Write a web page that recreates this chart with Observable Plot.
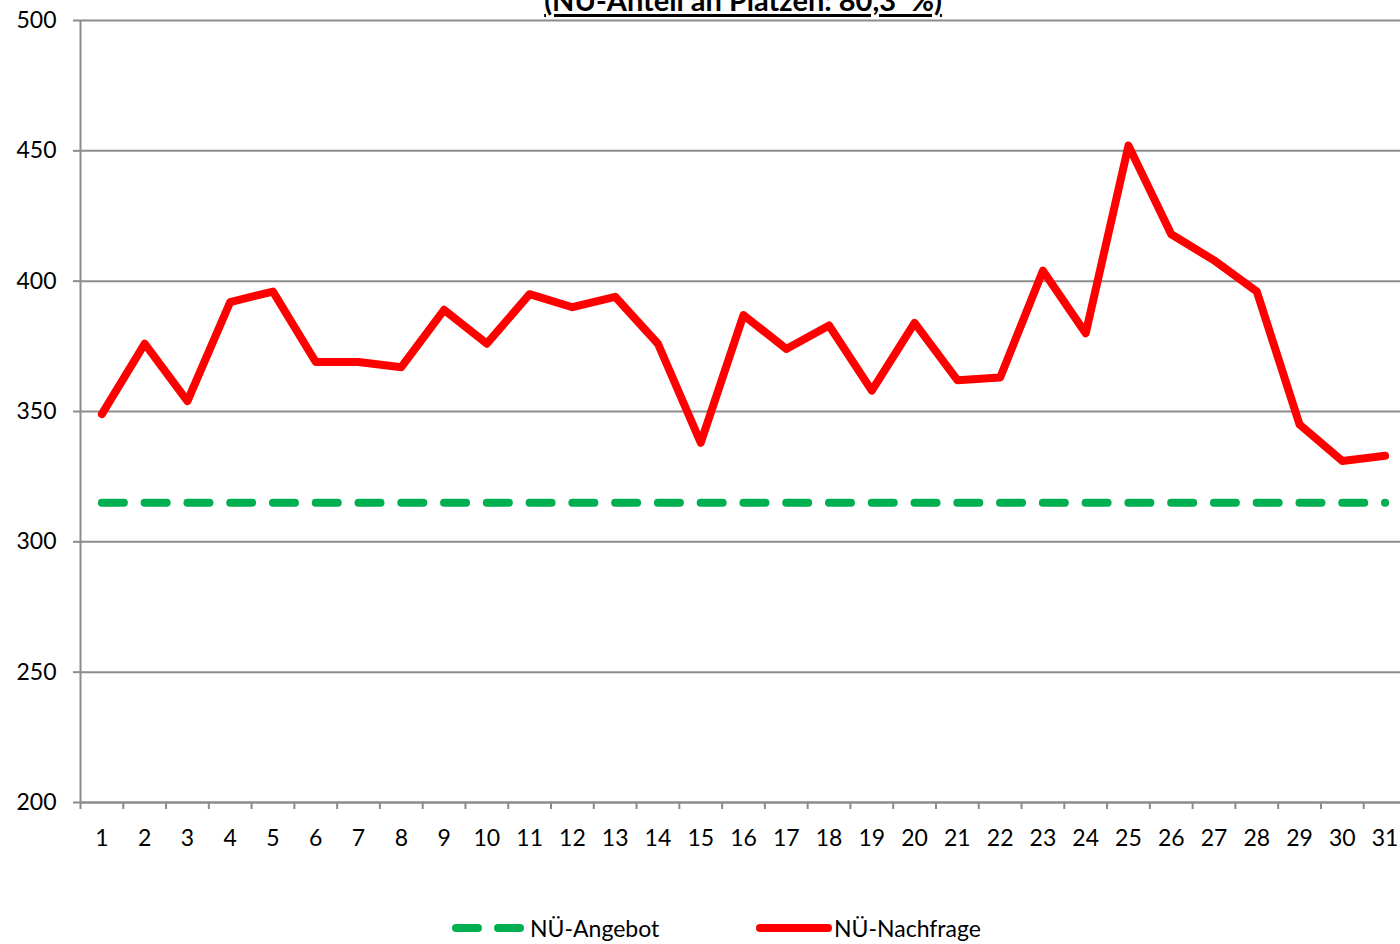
<!DOCTYPE html>
<html>
<head>
<meta charset="utf-8">
<script src="https://cdn.jsdelivr.net/npm/d3@7"></script>
<script src="https://cdn.jsdelivr.net/npm/@observablehq/plot@0.6"></script>
<style>
  html, body { margin: 0; padding: 0; background: #fff; overflow: hidden; }
  body { width: 1400px; height: 944px; position: relative; font-family: Lato, "Open Sans", sans-serif; }
  #title { position: absolute; left: 0; width: 1486px; top: -18px; text-align: center;
           font-weight: bold; font-size: 29px; color: #000; text-decoration: underline;
           text-decoration-thickness: 3px; text-underline-offset: 3px; white-space: pre; }
  #chart { position: absolute; left: 0; top: 0; }
  #legend { position: absolute; top: 912px; left: 0; width: 1400px; height: 32px; font-size: 23px; color: #000; }
  .item { position: absolute; display: flex; align-items: center; height: 32px; }
</style>
</head>
<body>
<div id="chart"></div>
<div id="title">(NÜ-Anteil an Plätzen: 80,3  %)</div>
<div id="legend"></div>
<script>
const days = d3.range(1, 32);
const nachfrage = [349, 376, 354, 392, 396, 369, 369, 367, 389, 376, 395, 390, 394, 376, 338,
                   387, 374, 383, 358, 384, 362, 363, 404, 380, 452, 418, 408, 396, 345, 331, 333];
const angebotValue = 315;
const yTicks = [200, 250, 300, 350, 400, 450, 500];
const seriesNames = ["NÜ-Angebot", "NÜ-Nachfrage"];
const colors = {"NÜ-Angebot": "#00B050", "NÜ-Nachfrage": "#FF0000"};

const demand = days.map((d, i) => ({day: d, value: nachfrage[i]}));
const supply = days.map(d => ({day: d, value: angebotValue}));
const boundaries = d3.range(0.5, 32, 1);

const chart = Plot.plot({
  width: 1400,
  height: 880,
  marginLeft: 80,
  marginRight: 0,
  marginTop: 20,
  marginBottom: 78,
  style: {fontFamily: "Lato, 'Open Sans', sans-serif", fontSize: "23px", color: "#000", background: "transparent"},
  x: {type: "linear", domain: [0.5, 31.5], range: [80, 1406]},
  y: {domain: [200, 500], range: [802, 20]},
  marks: [
    Plot.gridY(yTicks, {stroke: "#8c8c8c", strokeOpacity: 1, strokeWidth: 2}),
    Plot.ruleX([0.5], {stroke: "#8c8c8c", strokeWidth: 2}),
    Plot.ruleY([200], {stroke: "#8c8c8c", strokeWidth: 2}),
    Plot.axisY({ticks: yTicks, tickSize: 7, tickPadding: 17, stroke: "#8c8c8c", strokeWidth: 2,
                tickFormat: d => String(d), fontSize: 23, label: null}),
    Plot.axisX({ticks: boundaries, tickSize: 7, stroke: "#8c8c8c", strokeWidth: 2, tickFormat: () => "", label: null}),
    Plot.axisX({ticks: days, tickSize: 0, tickPadding: 27, tickFormat: d => String(d), fontSize: 23, label: null}),
    Plot.line(supply, {x: "day", y: "value", stroke: colors["NÜ-Angebot"], strokeWidth: 8,
                       strokeDasharray: "22,20.77", strokeLinecap: "round", strokeDashoffset: 0}),
    Plot.line(demand, {x: "day", y: "value", stroke: colors["NÜ-Nachfrage"], strokeWidth: 8,
                       strokeLinejoin: "round", strokeLinecap: "round"})
  ]
});
document.getElementById("chart").appendChild(chart);

const legend = document.getElementById("legend");
const items = [
  {name: seriesNames[0], left: 450, swatch: `<svg width="80" height="12"><line x1="6" y1="6" x2="76" y2="6" stroke="${colors[seriesNames[0]]}" stroke-width="8" stroke-linecap="round" stroke-dasharray="22,20"/></svg>`},
  {name: seriesNames[1], left: 754, swatch: `<svg width="80" height="12"><line x1="6" y1="6" x2="74" y2="6" stroke="${colors[seriesNames[1]]}" stroke-width="8" stroke-linecap="round"/></svg>`}
];
for (const it of items) {
  const div = document.createElement("div");
  div.className = "item";
  div.style.left = it.left + "px";
  div.innerHTML = it.swatch + `<span>${it.name}</span>`;
  legend.appendChild(div);
}
</script>
</body>
</html>
